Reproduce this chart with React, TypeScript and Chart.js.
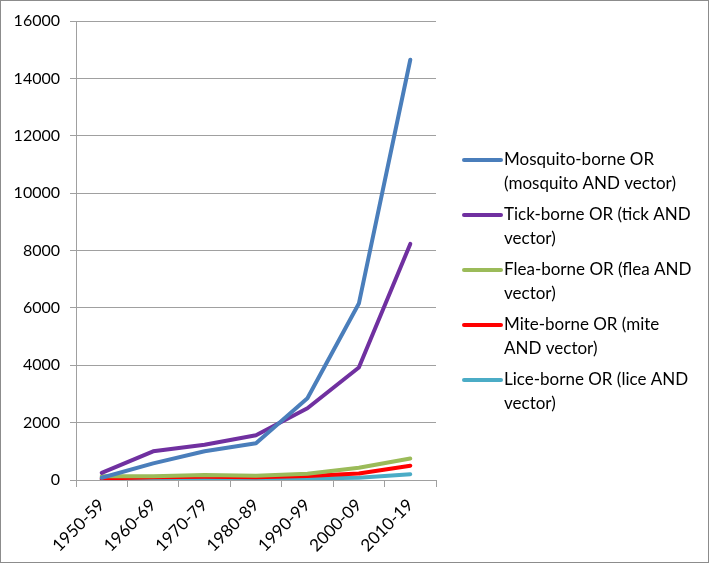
import React, { useEffect, useRef } from "react";
import { Chart, registerables } from "chart.js";

Chart.register(...registerables);

const categories = ["1950-59", "1960-69", "1970-79", "1980-89", "1990-99", "2000-09", "2010-19"];
const mosquito = [80, 580, 1000, 1280, 2850, 6150, 14650];
const tick = [250, 1000, 1230, 1560, 2500, 3920, 8230];
const flea = [130, 130, 170, 150, 220, 430, 750];
const mite = [50, 100, 110, 100, 140, 230, 500];
const lice = [20, 40, 50, 30, 50, 80, 200];
const seriesNames = [
  ["Mosquito-borne OR", "(mosquito AND vector)"],
  ["Tick-borne OR (tick AND", "vector)"],
  ["Flea-borne OR (flea AND", "vector)"],
  ["Mite-borne OR (mite", "AND vector)"],
  ["Lice-borne OR (lice AND", "vector)"],
];
const yTicks = { min: 0, max: 16000, step: 2000 };

const FONT = "Lato, 'Open Sans', sans-serif";

const legendPlugin = {
  id: "wrapLegend",
  afterDraw(chart: any) {
    const ctx = chart.ctx;
    ctx.save();
    ctx.font = `17px ${FONT}`;
    ctx.fillStyle = "#000";
    ctx.textBaseline = "middle";
    chart.data.datasets.forEach((ds: any, i: number) => {
      const y0 = 159 + i * 55;
      ctx.strokeStyle = ds.borderColor;
      ctx.lineWidth = 4;
      ctx.lineCap = "round";
      ctx.beginPath();
      ctx.moveTo(463, y0);
      ctx.lineTo(500, y0);
      ctx.stroke();
      const lines: string[] = ds.label;
      lines.forEach((t, j) => ctx.fillText(t, 503, y0 + j * 24));
    });
    ctx.restore();
  },
};

export default function App() {
  const ref = useRef<HTMLCanvasElement | null>(null);
  useEffect(() => {
    document.body.style.margin = "0";
    const colors = ["#4a7ebb", "#7030a0", "#9bbb59", "#ff0000", "#4bacc6"];
    const values = [mosquito, tick, flea, mite, lice];
    const chart = new Chart(ref.current!, {
      type: "line",
      data: {
        labels: categories,
        datasets: values.map((v, i) => ({
          label: seriesNames[i] as any,
          data: v,
          borderColor: colors[i],
          backgroundColor: colors[i],
          borderWidth: 4,
          pointRadius: 0,
          tension: 0,
          borderCapStyle: "round",
          borderJoinStyle: "round",
        })),
      },
      options: {
        animation: false,
        responsive: false,
        layout: { padding: { left: 0, right: 272, top: 20, bottom: 0 } },
        plugins: { legend: { display: false }, tooltip: { enabled: false } },
        scales: {
          x: {
            offset: true,
            grid: { offset: true, drawOnChartArea: false, drawTicks: true, tickLength: 7, color: "#a0a0a0" },
            border: { color: "#a0a0a0", width: 1 },
            ticks: { minRotation: 45, maxRotation: 45, autoSkip: false, color: "#000", font: { family: FONT, size: 17 }, padding: 8 },
            afterFit(s: any) { s.height = 82; },
          },
          y: {
            min: yTicks.min,
            max: yTicks.max,
            ticks: {
              stepSize: yTicks.step,
              color: "#000",
              font: { family: FONT, size: 16 },
              padding: 10,
              callback: (v: any) => String(v),
            },
            grid: { color: "#a0a0a0", tickLength: 6 },
            border: { color: "#a0a0a0", width: 1 },
            afterFit(s: any) { s.width = 75; },
          },
        },
      },
      plugins: [legendPlugin],
    });
    return () => chart.destroy();
  }, []);
  return (
    <div style={{ width: 707, height: 561, border: "1px solid #8c8c8c", background: "#fff" }}>
      <canvas ref={ref} width={707} height={561} style={{ display: "block" }} />
    </div>
  );
}
